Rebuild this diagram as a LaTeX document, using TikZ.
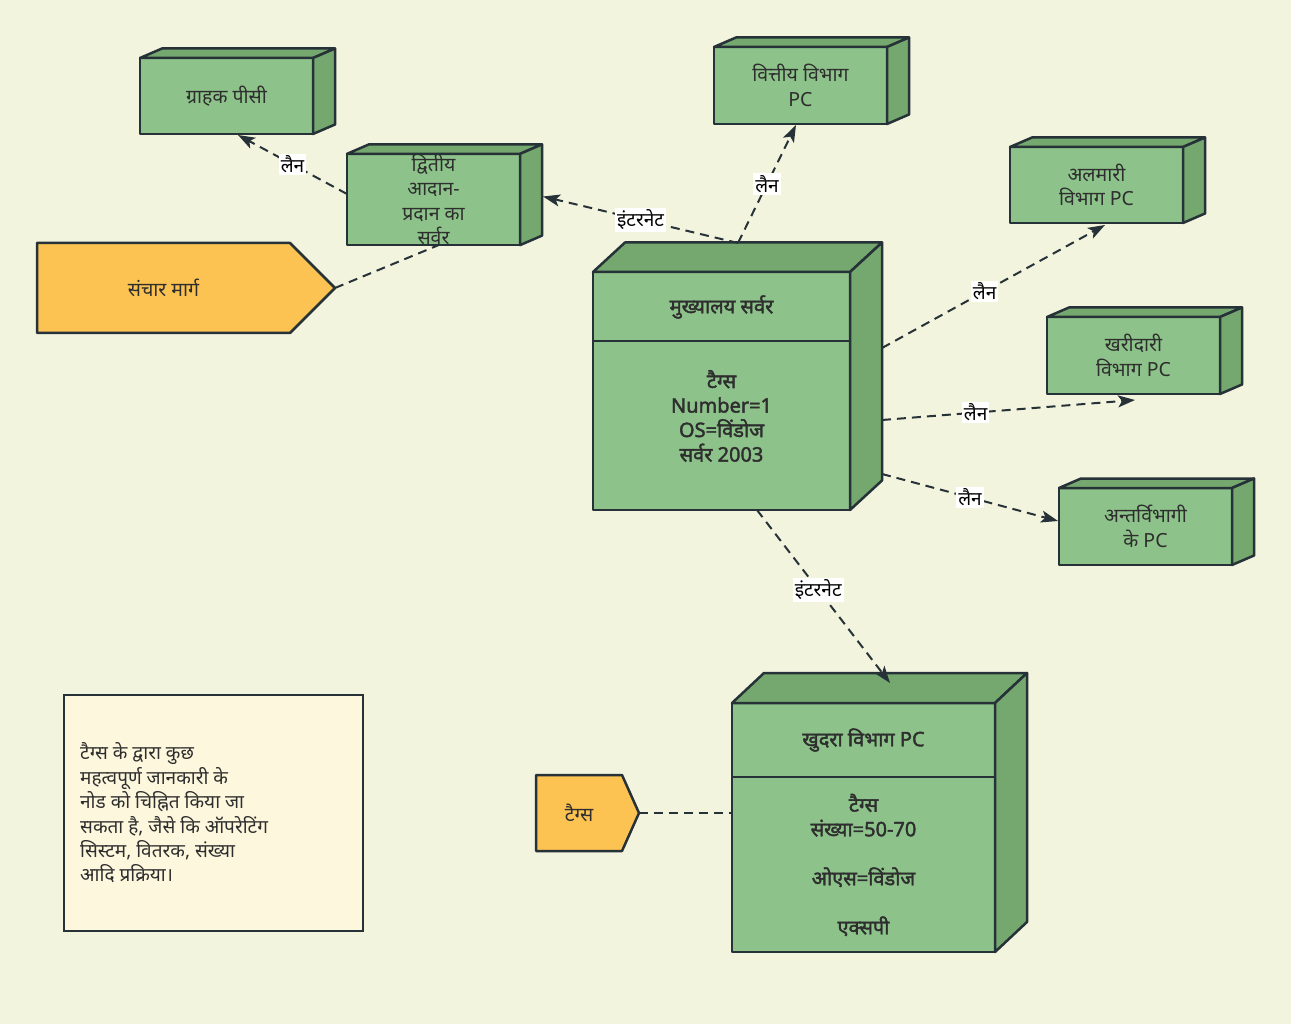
\documentclass[tikz,border=0pt]{standalone}
\usepackage{fontspec}
\setmainfont{Noto Sans}[Script=Devanagari, BoldFont={Noto Sans}, BoldFeatures={FakeBold=2}]
\usetikzlibrary{arrows.meta}
\definecolor{bgc}{HTML}{F2F4DE}
\definecolor{nodegreen}{HTML}{8DC38A}
\definecolor{sidegreen}{HTML}{74A86E}
\definecolor{strk}{HTML}{263238}
\definecolor{orng}{HTML}{FCC352}
\definecolor{notefill}{HTML}{FDF8DD}
\definecolor{txtc}{HTML}{2E2E2E}
\tikzset{
  frontbox/.style={draw=strk, fill=nodegreen, line width=2.5pt, line join=round, outer sep=0pt, inner sep=0pt,
    align=center, text=txtc, font=\fontsize{19.5}{24.5}\selectfont},
  facebox/.style={draw=strk, fill=sidegreen, line width=2.5pt, line join=round},
  orangebox/.style={draw=strk, fill=orng, line width=2.5pt, line join=round},
  plaintxt/.style={align=center, text=txtc, inner sep=0pt, font=\fontsize{19.5}{24.5}\selectfont},
  boldtxt/.style={align=center, text=txtc, inner sep=0pt, font=\bfseries\fontsize{20}{24.5}\selectfont},
  conn/.style={draw=strk, line width=2pt, dash pattern=on 9pt off 6pt},
  arr/.style={-{Stealth[length=17pt,width=12pt,inset=4pt]}},
  lbl/.style={fill=white, inner sep=2pt, text=black, font=\fontsize{19}{21}\selectfont},
}
\newcommand\depthfaces[3]{%
  \filldraw[facebox] (#1.north west) -- ([shift={(#2,-#3)}]#1.north west) -- ([shift={(#2,-#3)}]#1.north east) -- (#1.north east) -- cycle;
  \filldraw[facebox] (#1.north east) -- ([shift={(#2,-#3)}]#1.north east) -- ([shift={(#2,-#3)}]#1.south east) -- (#1.south east) -- cycle;
}
\begin{document}
\begin{tikzpicture}[x=1pt,y=-1pt]
\fill[bgc] (0,0) rectangle (1291,1024);
\useasboundingbox (0,0) rectangle (1291,1024);

% small 3D boxes
\node[frontbox, minimum width=173pt, minimum height=76pt] (grahak) at (226.5,96) {ग्राहक पीसी};
\depthfaces{grahak}{22}{9.5}
\node[frontbox, minimum width=173pt, minimum height=77pt] (dvitiya) at (433.5,199.5) {द्वितीय\\आदान-\\प्रदान का\\सर्वर};
\depthfaces{dvitiya}{22}{9.5}
\node[frontbox, minimum width=173pt, minimum height=77pt] (vittiya) at (800.5,85.5) {वित्तीय विभाग\\PC};
\depthfaces{vittiya}{22}{9.5}
\node[frontbox, minimum width=173pt, minimum height=76pt] (almari) at (1096.5,185) {अलमारी\\विभाग PC};
\depthfaces{almari}{22}{9.5}
\node[frontbox, minimum width=173pt, minimum height=77pt] (kharidari) at (1133.5,355.5) {खरीदारी\\विभाग PC};
\depthfaces{kharidari}{22}{9.5}
\node[frontbox, minimum width=173pt, minimum height=77pt] (anya) at (1145.5,526.5) {अन्तर्विभागी\\के PC};
\depthfaces{anya}{22}{9.5}

% headquarters server
\node[frontbox, minimum width=257pt, minimum height=238pt] (server) at (721.5,391) {};
\depthfaces{server}{32}{29.5}
\draw[draw=strk, line width=2pt] (server.west |- 0,341) -- (server.east |- 0,341);
\node[boldtxt] (servertitle) at (721.5,307) {मुख्यालय सर्वर};
\node[boldtxt] (serverbody) at (721.5,416) {टैग्स\\Number=1\\OS=विंडोज\\सर्वर 2003};

% retail PC
\node[frontbox, minimum width=263pt, minimum height=249pt] (khudra) at (863.5,827.5) {};
\depthfaces{khudra}{32}{30}
\draw[draw=strk, line width=2pt] (khudra.west |- 0,777) -- (khudra.east |- 0,777);
\node[boldtxt] (khudratitle) at (863.5,740) {खुदरा विभाग PC};
\node[boldtxt] (khudrabody) at (863.5,865) {टैग्स\\संख्या=50-70\\[24.5pt]ओएस=विंडोज\\[24.5pt]एक्सपी};

% orange signals
\node[minimum width=253pt, minimum height=90pt, outer sep=0pt, inner sep=0pt] (sanchar) at (163.5,288) {};
\filldraw[orangebox] (sanchar.north west) -- (sanchar.north east) -- ([xshift=45pt]sanchar.east) -- (sanchar.south east) -- (sanchar.south west) -- cycle;
\node[plaintxt] at (sanchar.center) {संचार मार्ग};

\node[minimum width=86pt, minimum height=76pt, outer sep=0pt, inner sep=0pt] (tags) at (579,813) {};
\filldraw[orangebox] (tags.north west) -- (tags.north east) -- ([xshift=17pt]tags.east) -- (tags.south east) -- (tags.south west) -- cycle;
\node[plaintxt] at (tags.center) {टैग्स};

% note
\node[draw=strk, fill=notefill, line width=2pt, minimum width=299pt, minimum height=236pt, outer sep=0pt] (note) at (213.5,813) {};
\node[anchor=west, align=left, text=txtc, inner sep=0pt, font=\fontsize{19}{24.4}\selectfont] (notetext) at ([xshift=16pt]note.west)
  {टैग्स के द्वारा कुछ\\महत्वपूर्ण जानकारी के\\नोड को चिह्नित किया जा\\सकता है, जैसे कि ऑपरेटिंग\\सिस्टम, वितरक, संख्या\\आदि प्रक्रिया।};

% connectors
\draw[conn,arr] ([yshift=5.5pt]dvitiya.west) -- node[lbl]{लैन} ([xshift=11.5pt,yshift=-1pt]grahak.south);
\draw[conn] ([xshift=45pt]sanchar.east) -- ([xshift=5pt]dvitiya.south);
\draw[conn,arr] ([xshift=16.5pt,yshift=29pt]server.north) -- node[lbl]{इंटरनेट} ([xshift=23pt,yshift=3pt]dvitiya.east);
\draw[conn,arr] ([xshift=16.5pt,yshift=29pt]server.north) -- node[lbl]{लैन} ([xshift=-4.5pt,yshift=-1pt]vittiya.south);
\draw[conn,arr] ([xshift=32pt,yshift=43pt]server.east) -- node[lbl,pos=0.46]{लैन} ([xshift=8.5pt,yshift=-2pt]almari.south);
\draw[conn,arr] ([xshift=32pt,yshift=-29pt]server.east) -- node[lbl,pos=0.37]{लैन} ([xshift=1.5pt,yshift=-6pt]kharidari.south);
\draw[conn,arr] ([xshift=32pt,yshift=-83pt]server.east) -- node[lbl]{लैन} ([xshift=-1pt,yshift=5.5pt]anya.west);
\draw[conn,arr] ([xshift=35.5pt]server.south) -- node[lbl,pos=0.46]{इंटरनेट} ([xshift=26.5pt,yshift=20pt]khudra.north);
\draw[conn] ([xshift=17pt]tags.east) -- (tags.east -| khudra.west);
\end{tikzpicture}
\end{document}
